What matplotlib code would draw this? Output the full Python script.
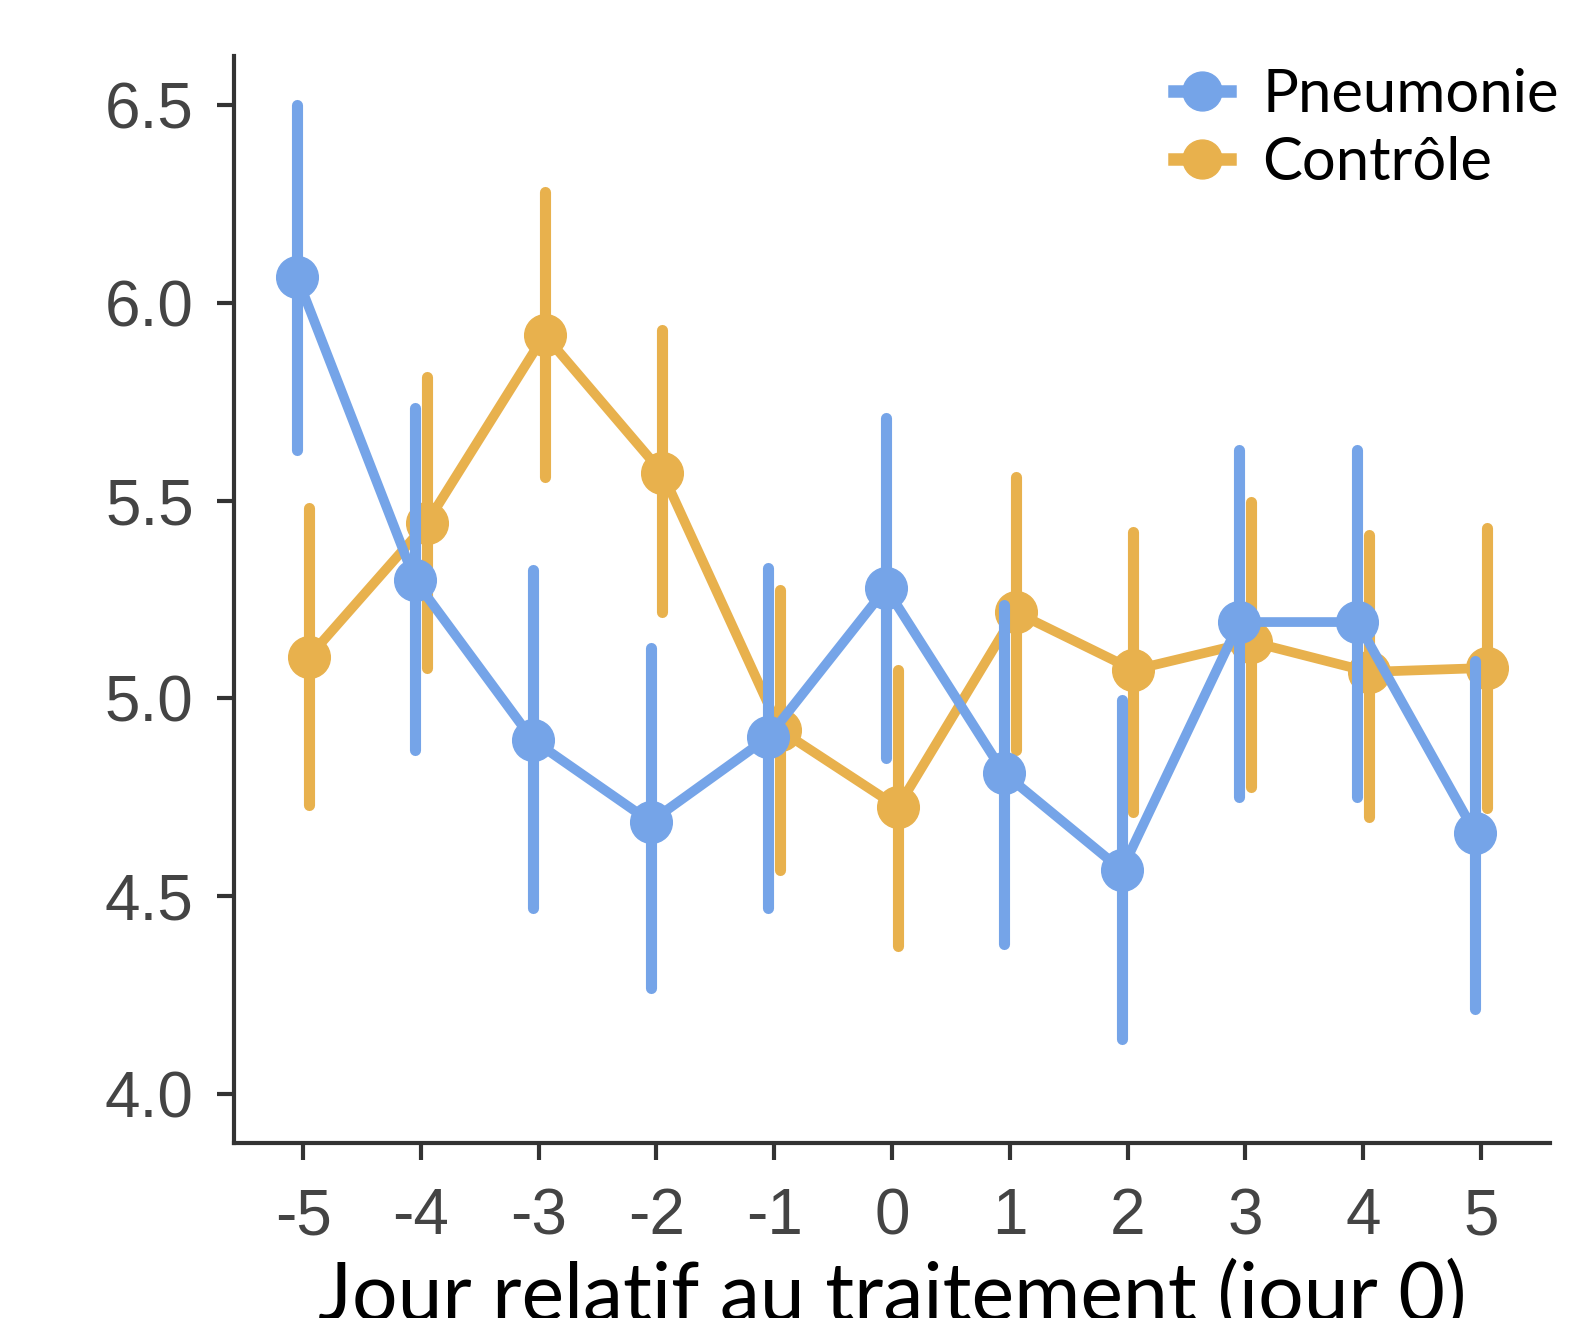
import numpy as np
import matplotlib.pyplot as plt
from matplotlib.lines import Line2D

# Days relative to treatment, and per-group mean with CI bounds
days = [-5, -4, -3, -2, -1, 0, 1, 2, 3, 4, 5]

pneu_mean = [6.065, 5.299, 4.895, 4.688, 4.902, 5.279, 4.811, 4.566, 5.193, 5.193, 4.660]
pneu_low = [5.628, 4.870, 4.470, 4.268, 4.470, 4.849, 4.379, 4.139, 4.751, 4.751, 4.215]
pneu_high = [6.500, 5.734, 5.325, 5.127, 5.330, 5.709, 5.236, 4.996, 5.628, 5.628, 5.094]

ctrl_mean = [5.105, 5.443, 5.919, 5.570, 4.920, 4.725, 5.218, 5.072, 5.143, 5.067, 5.077]
ctrl_low = [4.731, 5.077, 5.560, 5.218, 4.566, 4.374, 4.870, 4.713, 4.776, 4.700, 4.723]
ctrl_high = [5.481, 5.812, 6.280, 5.931, 5.274, 5.072, 5.560, 5.421, 5.496, 5.413, 5.431]

y_ticks = [4.0, 4.5, 5.0, 5.5, 6.0, 6.5]

BLUE = "#75A4E8"
ORANGE = "#E8B14D"
DODGE = 0.05

fig = plt.figure(figsize=(15.83, 13.18), dpi=100)
ax = fig.add_axes([234 / 1583, 1 - 1143 / 1318, (1550 - 234) / 1583, (1143 - 56) / 1318])

x = np.array(days, dtype=float)
series = [
    (x + DODGE, ctrl_mean, ctrl_low, ctrl_high, ORANGE, "Contrôle"),
    (x - DODGE, pneu_mean, pneu_low, pneu_high, BLUE, "Pneumonie"),
]
for xs, mean, low, high, color, label in series:
    ax.vlines(xs, low, high, color=color, lw=8, capstyle="round")
    ax.plot(xs, mean, color=color, lw=7, marker="o", markersize=30,
            solid_joinstyle="round")

ax.set_xlim(-5.586, 5.586)
ax.set_ylim(3.876, 6.624)
ax.set_xticks(days)
ax.set_xticklabels([str(d) for d in days])
ax.set_yticks(y_ticks)
ax.set_yticklabels([f"{v:.1f}" for v in y_ticks])

for side in ("top", "right"):
    ax.spines[side].set_visible(False)
for side in ("left", "bottom"):
    ax.spines[side].set_linewidth(3)
    ax.spines[side].set_color("#333333")

ax.tick_params(axis="both", length=12, width=3, color="#333333",
               labelcolor="#444444", labelsize=46)
ax.tick_params(axis="x", pad=20)
ax.tick_params(axis="y", pad=17)
for lab in ax.get_xticklabels() + ax.get_yticklabels():
    lab.set_fontfamily("Liberation Sans")

handles = [Line2D([], [], color=BLUE, lw=9, marker="o", markersize=28),
           Line2D([], [], color=ORANGE, lw=9, marker="o", markersize=28)]
fig.legend(handles, ["Pneumonie", "Contrôle"], loc="upper left",
           bbox_to_anchor=(1174 / 1583, 1 - 68 / 1318), frameon=False,
           prop={"family": "Lato", "size": 43}, handlelength=0.93,
           handletextpad=0.55, labelspacing=0.23, borderpad=0, borderaxespad=0)

fig.text(892 / 1583, (1318 - 1321) / 1318, "Jour relatif au traitement (jour 0)",
         ha="center", va="baseline", fontsize=58, family="Lato", color="black")

fig.savefig("out.png", dpi=100)
